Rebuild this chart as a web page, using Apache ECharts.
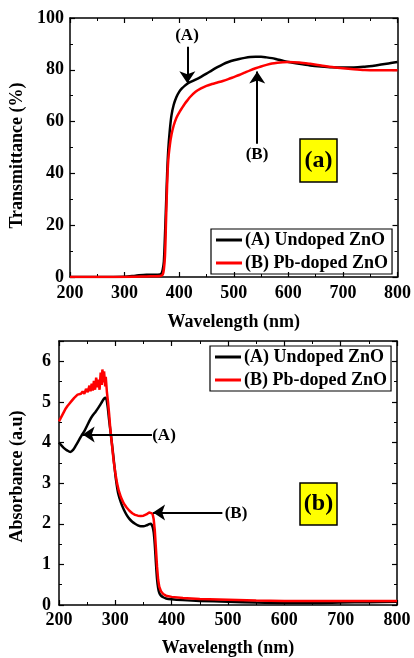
<!DOCTYPE html>
<html>
<head>
<meta charset="utf-8">
<script src="https://cdn.jsdelivr.net/npm/echarts@6/dist/echarts.min.js"></script>
<style>
  html, body { margin: 0; padding: 0; background: #fff; }
  #chart { width: 414px; height: 658px; }
</style>
</head>
<body>
<div id="chart"></div>
<script>
// (a) transmittance
var wavelengthT = [200, 250, 300, 320, 340, 355, 365, 368, 370, 372, 374, 376, 378, 380, 383, 386, 390, 395, 400, 405,
  410, 415, 420, 430, 440, 450, 460, 470, 480, 490, 500, 510, 520, 530, 540, 550, 560, 570, 580, 590,
  600, 620, 640, 660, 680, 700, 720, 740, 760, 780, 800];
var transUndoped = [0, 0, 0.1, 0.5, 0.9, 0.9, 1.0, 1.5, 3, 6, 16, 28, 40, 49, 57, 62.5, 66.5, 69.5, 71.5, 72.8,
  73.8, 74.6, 75.2, 76.2, 77.3, 78.5, 79.8, 81, 82.1, 83, 83.7, 84.2, 84.6, 84.9, 85, 85, 84.8, 84.5, 84, 83.5,
  83, 82.3, 81.7, 81.3, 81, 80.9, 80.9, 81.2, 81.7, 82.3, 83];
var transPbDoped = [0, 0, 0, 0.1, 0.2, 0.3, 0.4, 0.6, 1, 3, 8, 22, 36, 45, 51, 55, 58.5, 61.5, 63.5, 65.2,
  66.8, 68.2, 69.5, 71.5, 72.8, 73.8, 74.5, 75.1, 75.7, 76.4, 77.2, 78, 78.9, 79.8, 80.6, 81.3, 81.9, 82.4, 82.7, 82.9,
  83, 82.8, 82.3, 81.7, 81.1, 80.6, 80.2, 79.9, 79.8, 79.8, 79.8];

// (b) absorbance
var wavelengthAbsA = [200, 205, 210, 215, 220, 225, 230, 235, 240, 245, 250, 255, 260, 265, 270, 275, 280, 283, 286, 289,
  292, 295, 298, 301, 305, 310, 315, 320, 325, 330, 335, 340, 345, 350, 355, 360, 363, 366, 368, 370,
  372, 374, 376, 378, 381, 385, 390, 400, 420, 450, 500, 550, 600, 650, 700, 750, 800];
var absUndoped = [4.0, 3.92, 3.85, 3.8, 3.77, 3.82, 3.93, 4.05, 4.17, 4.28, 4.42, 4.56, 4.67, 4.76, 4.86, 4.97, 5.08, 5.1, 4.92, 4.55,
  4.2, 3.85, 3.47, 3.1, 2.75, 2.52, 2.35, 2.22, 2.12, 2.05, 2.0, 1.96, 1.94, 1.94, 1.96, 1.99, 2.0, 1.93, 1.8, 1.5,
  1.05, 0.65, 0.42, 0.3, 0.23, 0.19, 0.16, 0.14, 0.12, 0.1, 0.08, 0.06, 0.05, 0.05, 0.06, 0.07, 0.08];
var wavelengthAbsB = [200, 203, 206, 209, 212, 215, 218, 221, 224, 227, 230, 233, 236, 239, 242, 245, 248, 251, 254, 256,
  258, 260, 262, 264, 266, 268, 270, 272, 274, 276, 277, 279, 280, 282, 283, 285, 287, 289, 291, 294,
  297, 300, 303, 306, 310, 315, 320, 325, 330, 335, 340, 345, 350, 355, 360, 363, 366, 368, 370, 372,
  374, 376, 378, 381, 385, 390, 400, 420, 450, 500, 550, 600, 700, 800];
var absPbDoped = [4.52, 4.6, 4.68, 4.76, 4.84, 4.9, 4.95, 5.0, 5.05, 5.1, 5.12, 5.18, 5.22, 5.2, 5.26, 5.2, 5.32, 5.24, 5.4, 5.26,
  5.45, 5.28, 5.52, 5.3, 5.6, 5.36, 5.55, 5.3, 5.72, 5.42, 5.8, 5.48, 5.75, 5.38, 5.62, 5.25, 5.0, 4.7, 4.35, 3.95,
  3.55, 3.25, 3.0, 2.82, 2.65, 2.5, 2.4, 2.32, 2.26, 2.22, 2.2, 2.19, 2.2, 2.23, 2.28, 2.3, 2.25, 2.12, 1.85, 1.4,
  0.95, 0.62, 0.45, 0.34, 0.27, 0.23, 0.2, 0.17, 0.15, 0.13, 0.11, 0.1, 0.1, 0.1];

var seriesNames = ['(A) Undoped ZnO', '(B) Pb-doped ZnO'];

function zip(xs, ys) {
  return xs.map(function (x, i) { return [x, ys[i]]; });
}

var FONT = '"Liberation Serif", "Times New Roman", serif';

function mainAxis(opts) {
  return Object.assign({
    type: 'value',
    axisLine: { show: true, onZero: false, lineStyle: { color: '#000', width: 1.5 } },
    axisTick: { show: true, inside: true, length: 5, lineStyle: { color: '#000', width: 1.2 } },
    minorTick: { show: true, splitNumber: 2, length: 3, lineStyle: { color: '#000', width: 1 } },
    splitLine: { show: false },
    nameLocation: 'middle'
  }, opts);
}

function frameAxis(opts) {
  var a = mainAxis(opts);
  a.axisLabel = { show: false };
  return a;
}

function tickLabel(margin, extra) {
  return Object.assign({ color: '#000', fontFamily: FONT, fontWeight: 'bold', fontSize: 18, margin: margin }, extra || {});
}

function nameStyle(pad) {
  return { color: '#000', fontFamily: FONT, fontWeight: 'bold', fontSize: 18, padding: pad || 0 };
}

var arrowLine = function (pts) {
  return {
    silent: true,
    symbol: ['none', 'arrow'],
    symbolSize: 12,
    label: { show: false },
    lineStyle: { type: 'solid', color: '#000', width: 2 },
    animation: false,
    data: pts.map(function (p) { return [{ coord: p[0] }, { coord: p[1] }]; })
  };
};

function legendBox(left, top) {
  return {
    data: seriesNames, selectedMode: false, orient: 'vertical',
    left: left, top: top, padding: [2, 4, 2, 5], itemGap: 5,
    itemWidth: 26, itemHeight: 3, icon: 'rect',
    borderColor: '#000', borderWidth: 1.2, borderRadius: 0,
    textStyle: { color: '#000', fontFamily: FONT, fontWeight: 'bold', fontSize: 18, padding: [0, 0, 0, -2] }
  };
}

var chart = echarts.init(document.getElementById('chart'));

chart.setOption({
  animation: false,
  backgroundColor: '#fff',
  grid: [
    { left: 68, top: 18, width: 331, height: 259 },
    { left: 57, top: 341, width: 340, height: 267 }
  ],
  xAxis: [
    mainAxis({ gridIndex: 0, min: 200, max: 800, interval: 100, position: 'bottom',
      name: 'Wavelength (nm)', nameGap: 36, nameTextStyle: nameStyle(), axisLabel: tickLabel(7) }),
    frameAxis({ gridIndex: 0, min: 200, max: 800, interval: 100, position: 'top' }),
    mainAxis({ gridIndex: 1, min: 200, max: 800, interval: 100, position: 'bottom',
      name: 'Wavelength (nm)', nameGap: 34, nameTextStyle: nameStyle(), axisLabel: tickLabel(6) }),
    frameAxis({ gridIndex: 1, min: 200, max: 800, interval: 100, position: 'top' })
  ],
  yAxis: [
    mainAxis({ gridIndex: 0, min: 0, max: 100, interval: 20, position: 'left',
      name: 'Transmittance (%)', nameGap: 44, nameTextStyle: nameStyle([0, 16, 0, 0]), axisLabel: tickLabel(6) }),
    frameAxis({ gridIndex: 0, min: 0, max: 100, interval: 20, position: 'right' }),
    mainAxis({ gridIndex: 1, min: 0, max: 6.5, interval: 1, position: 'left',
      name: 'Absorbance (a.u)', nameGap: 33, nameTextStyle: nameStyle([0, 7, 0, 0]), axisLabel: tickLabel(8, { showMaxLabel: false }) }),
    frameAxis({ gridIndex: 1, min: 0, max: 6.5, interval: 1, position: 'right' })
  ],
  legend: [legendBox(211, 229), legendBox(210, 346)],
  series: [
    {
      name: seriesNames[0], type: 'line', xAxisIndex: 0, yAxisIndex: 0,
      data: zip(wavelengthT, transUndoped), showSymbol: false, smooth: 0.3,
      lineStyle: { color: '#000', width: 2.5 }, itemStyle: { color: '#000' },
      markLine: arrowLine([[[415, 88.9], [415, 74.8]], [[543, 51.4], [543, 79.3]]])
    },
    {
      name: seriesNames[1], type: 'line', xAxisIndex: 0, yAxisIndex: 0,
      data: zip(wavelengthT, transPbDoped), showSymbol: false, smooth: 0.3,
      lineStyle: { color: '#ff0000', width: 2.5 }, itemStyle: { color: '#ff0000' }
    },
    {
      name: seriesNames[0], type: 'line', xAxisIndex: 2, yAxisIndex: 2,
      data: zip(wavelengthAbsA, absUndoped), showSymbol: false, smooth: 0.3,
      lineStyle: { color: '#000', width: 2.5 }, itemStyle: { color: '#000' },
      markLine: arrowLine([[[365, 4.2], [242, 4.2]], [[490, 2.28], [367, 2.28]]])
    },
    {
      name: seriesNames[1], type: 'line', xAxisIndex: 2, yAxisIndex: 2,
      data: zip(wavelengthAbsB, absPbDoped), showSymbol: false, smooth: false,
      lineStyle: { color: '#ff0000', width: 2.5 }, itemStyle: { color: '#ff0000' }
    }
  ],
  graphic: [
    { type: 'text', x: 187, y: 36, style: { text: '(A)', font: 'bold 17px ' + FONT, fill: '#000', textAlign: 'center', textVerticalAlign: 'middle' } },
    { type: 'text', x: 257, y: 155, style: { text: '(B)', font: 'bold 17px ' + FONT, fill: '#000', textAlign: 'center', textVerticalAlign: 'middle' } },
    { type: 'rect', shape: { x: 300, y: 139, width: 37, height: 43 }, style: { fill: '#ffff00', stroke: '#000', lineWidth: 1.5 } },
    { type: 'text', x: 318.5, y: 161, style: { text: '(a)', font: 'bold 24px ' + FONT, fill: '#000', textAlign: 'center', textVerticalAlign: 'middle' } },
    { type: 'text', x: 164, y: 436, style: { text: '(A)', font: 'bold 17px ' + FONT, fill: '#000', textAlign: 'center', textVerticalAlign: 'middle' } },
    { type: 'text', x: 236, y: 514, style: { text: '(B)', font: 'bold 17px ' + FONT, fill: '#000', textAlign: 'center', textVerticalAlign: 'middle' } },
    { type: 'rect', shape: { x: 300, y: 483, width: 37, height: 42 }, style: { fill: '#ffff00', stroke: '#000', lineWidth: 1.5 } },
    { type: 'text', x: 318.5, y: 504, style: { text: '(b)', font: 'bold 24px ' + FONT, fill: '#000', textAlign: 'center', textVerticalAlign: 'middle' } }
  ]
});
</script>
</body>
</html>
